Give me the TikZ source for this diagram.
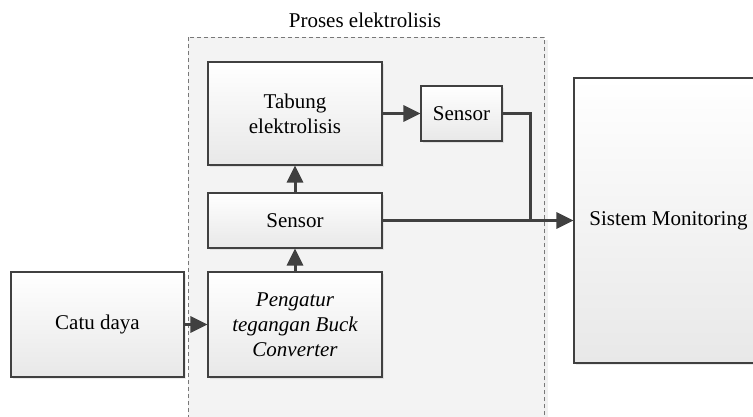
\documentclass[tikz,border=0pt]{standalone}
\usepackage{fontspec}
\setmainfont{Liberation Serif}
\usetikzlibrary{arrows.meta,shadows}
\definecolor{linegray}{RGB}{64,64,64}
\definecolor{framegray}{RGB}{120,120,120}
\definecolor{panelfill}{RGB}{243,243,243}
\definecolor{boxbottom}{RGB}{232,232,232}
\tikzset{
  blockbox/.style={draw=linegray, line width=1.1pt, top color=white, bottom color=boxbottom,
    shading angle=0, align=center, inner sep=0pt,
    drop shadow={shadow xshift=2pt, shadow yshift=-2pt, fill=black, opacity=0.08}},
  flow/.style={draw=linegray, line width=3pt,
    -{Triangle[length=17pt,width=16pt]}},
  plainflow/.style={draw=linegray, line width=3pt},
  txt/.style={font=\fontsize{21}{25}\selectfont}
}
\begin{document}
\begin{tikzpicture}[x=1pt,y=-1pt]
  \useasboundingbox (0,0) rectangle (753,416);
  \clip (0,0) rectangle (753,416);
  % dashed process region
  \fill[black, opacity=0.06] (191,40) rectangle (548,440);
  \draw[framegray, fill=panelfill, line width=0.8pt, dash pattern=on 4pt off 3pt]
    (188,37) rectangle (544,440);
  \node[txt] (title) at (365,20) {Proses elektrolisis};

  % blocks
  \node[blockbox, txt, minimum width=174pt, minimum height=103pt] (tabung) at (295,113.5)
    {Tabung\\elektrolisis};
  \node[blockbox, txt, minimum width=81pt, minimum height=55pt] (sensA) at (461.5,113.5)
    {Sensor};
  \node[blockbox, txt, minimum width=174pt, minimum height=55pt] (sensB) at (295,220.5)
    {Sensor};
  \node[blockbox, txt, minimum width=174pt, minimum height=105pt] (buck) at (295,324.5)
    {\itshape Pengatur\\\itshape tegangan Buck\\\itshape Converter};
  \node[blockbox, txt, minimum width=173pt, minimum height=105pt] (catu) at (97.5,324.5)
    {Catu daya};
  \node[blockbox, txt, minimum width=189pt, minimum height=285pt] (mon) at (668.5,220.5)
    {Sistem Monitoring};

  % connectors
  \coordinate (join) at (530,220.5);
  \draw[flow] (tabung.east) -- (sensA.west);
  \draw[flow] (sensB.north) -- (tabung.south);
  \draw[flow] (buck.north) -- (sensB.south);
  \draw[flow] (catu.east) -- (buck.west);
  \draw[flow] (sensB.east) -- (sensB.east -| mon.west);
  \draw[plainflow, line join=miter] (sensA.east) -| (join);
\end{tikzpicture}
\end{document}
